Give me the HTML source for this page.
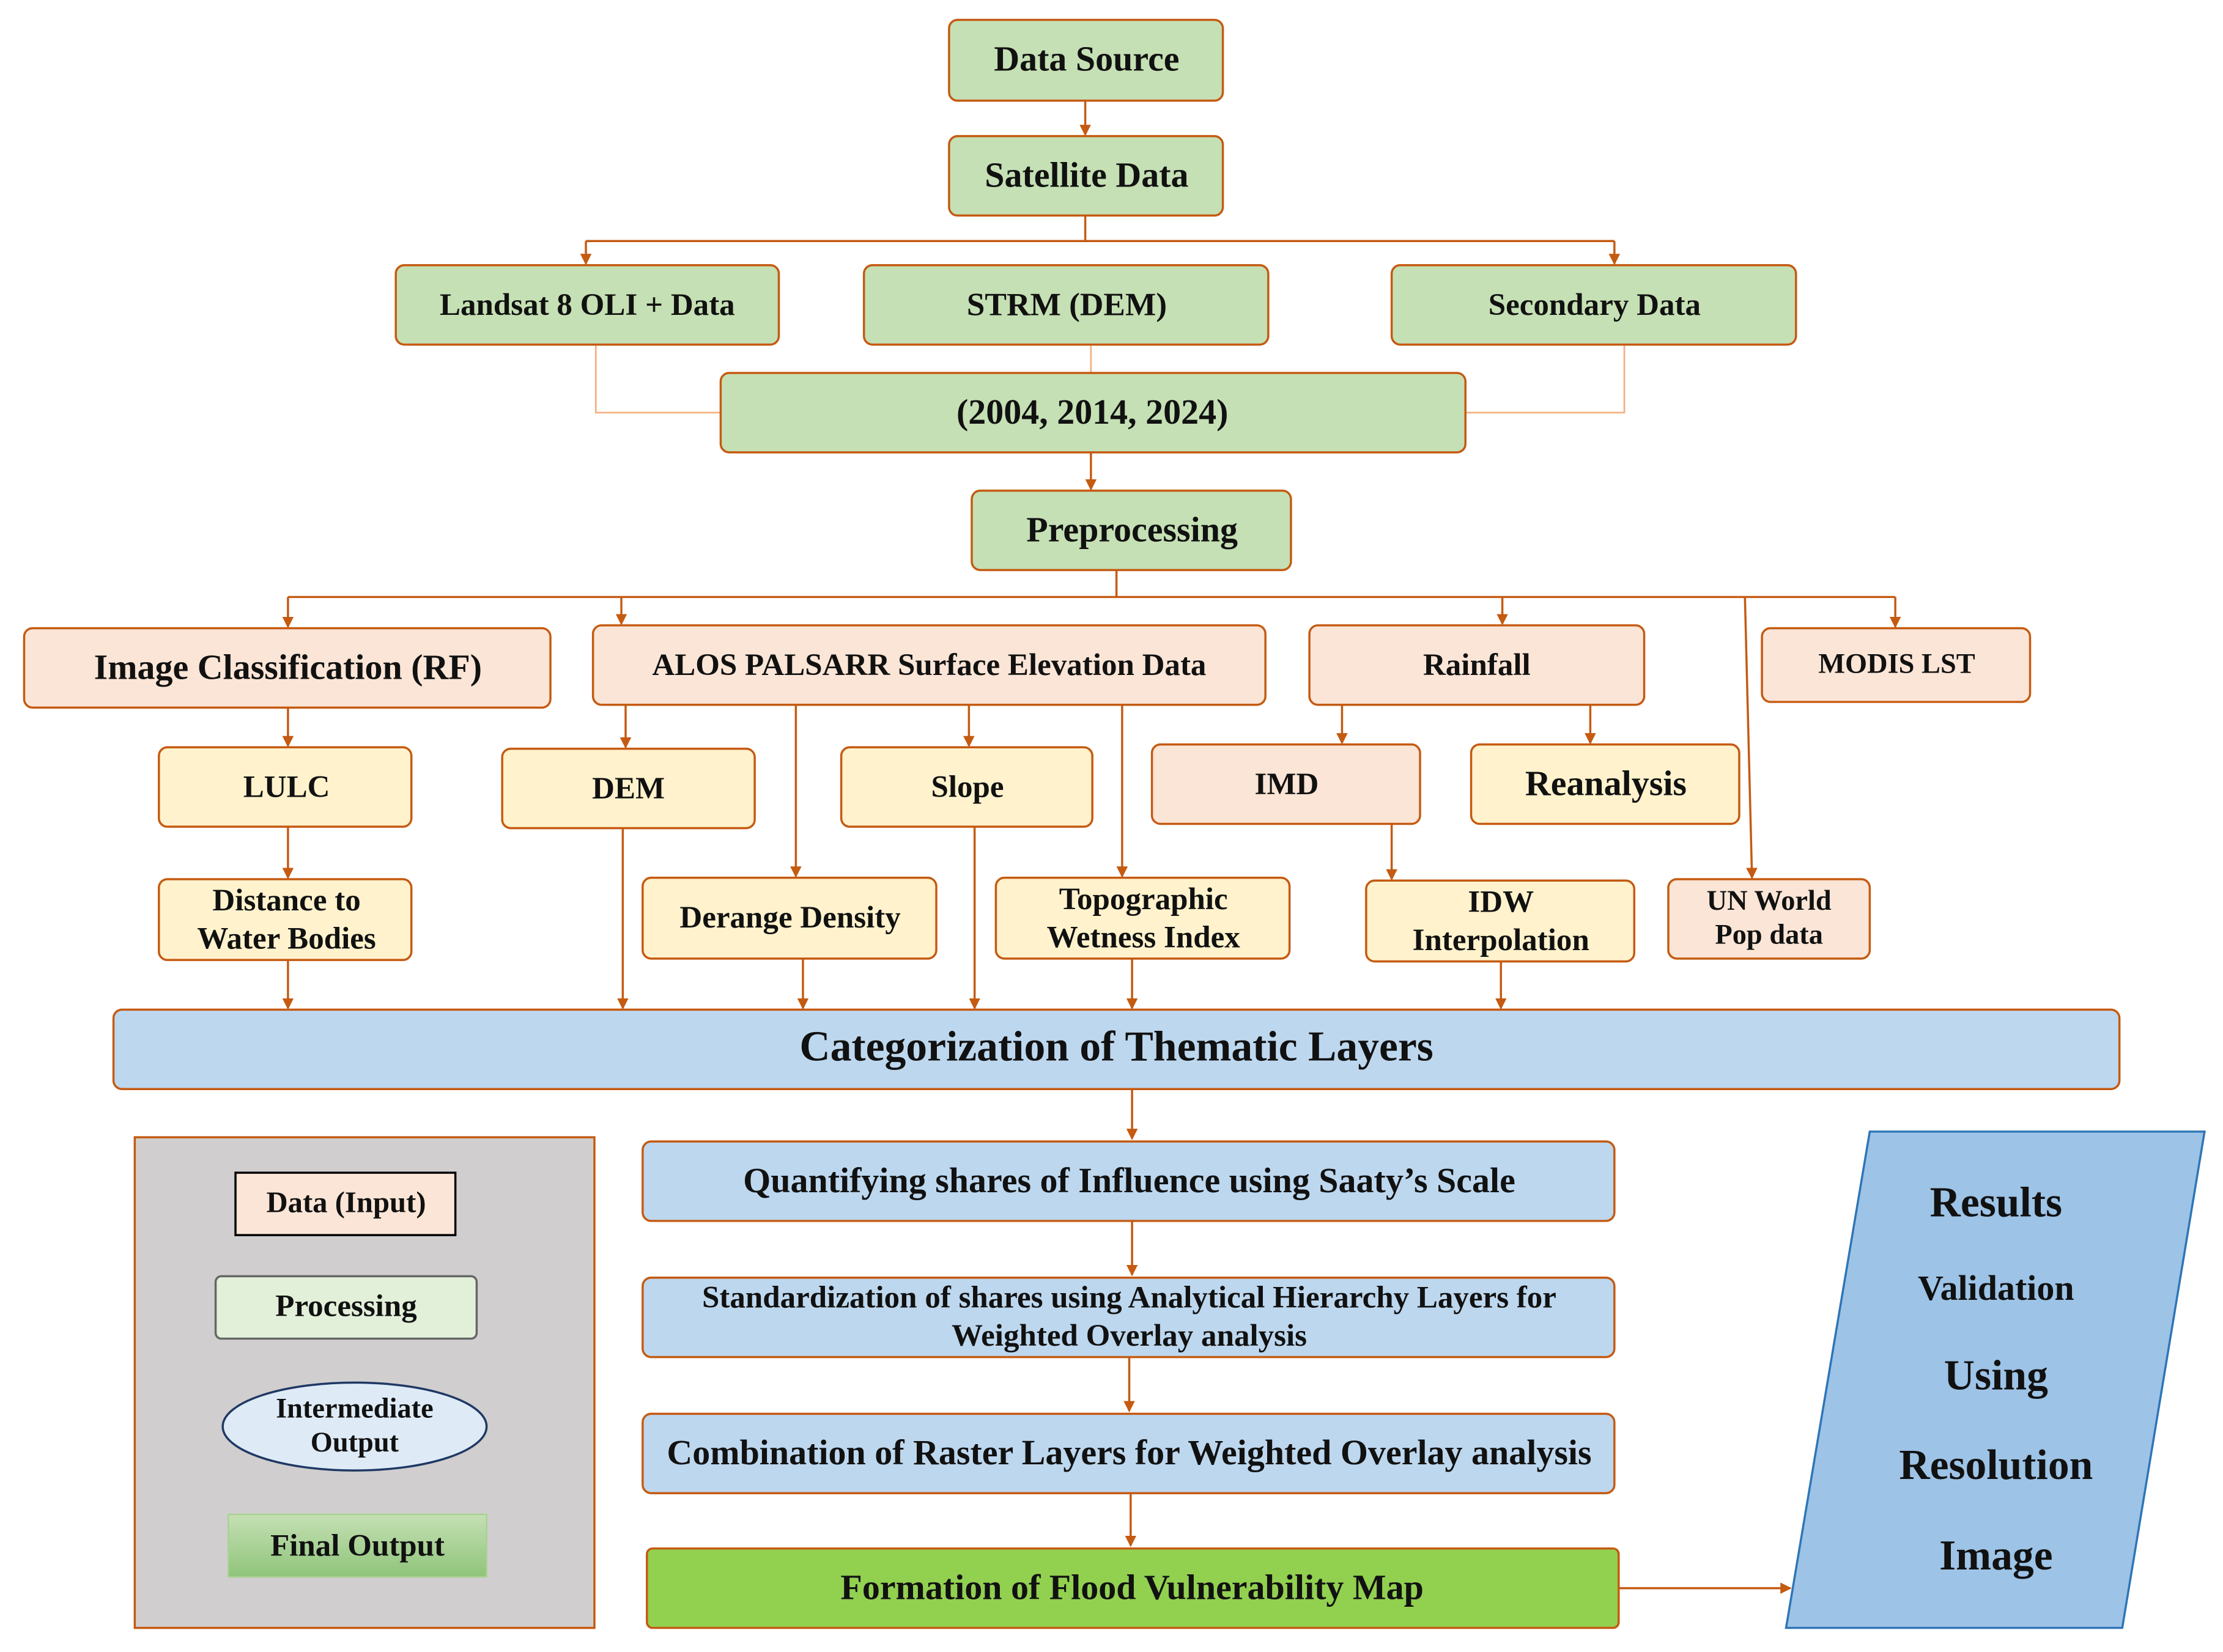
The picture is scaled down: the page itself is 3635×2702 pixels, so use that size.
<!DOCTYPE html>
<html><head><meta charset="utf-8"><style>
html,body{margin:0;padding:0;background:#fff}
svg{display:block}
text{font-family:"Liberation Serif",serif;font-weight:bold;fill:#111;text-anchor:middle;dominant-baseline:middle}
</style></head><body>
<svg width="3635" height="2702" viewBox="0 0 1567 1165" preserveAspectRatio="none" xmlns="http://www.w3.org/2000/svg">
<defs>
<marker id="a" markerWidth="8" markerHeight="8" refX="7" refY="4" orient="auto" markerUnits="userSpaceOnUse"><path d="M0,0 L8,4 L0,8 Z" fill="#c55a11"/></marker>
<linearGradient id="fg" x1="0" y1="0" x2="0" y2="1"><stop offset="0" stop-color="#c5e0b4"/><stop offset="1" stop-color="#8fc47a"/></linearGradient>
</defs>
<g stroke="#c55a11" stroke-width="1.5" fill="none">
<line x1="765" y1="71" x2="765" y2="95" marker-end="url(#a)"/>
<polyline points="765,152 765,170"/>
<line x1="413" y1="170" x2="1138" y2="170"/>
<line x1="413" y1="170" x2="413" y2="186" marker-end="url(#a)"/>
<line x1="1138" y1="170" x2="1138" y2="186" marker-end="url(#a)"/>
<line x1="769" y1="319" x2="769" y2="345" marker-end="url(#a)"/>
<line x1="787" y1="402" x2="787" y2="421"/>
<line x1="203" y1="421" x2="1336" y2="421"/>
<line x1="203" y1="421" x2="203" y2="442" marker-end="url(#a)"/>
<line x1="438" y1="421" x2="438" y2="440" marker-end="url(#a)"/>
<line x1="1059" y1="421" x2="1059" y2="440" marker-end="url(#a)"/>
<line x1="1336" y1="421" x2="1336" y2="442" marker-end="url(#a)"/>
<line x1="1230" y1="421" x2="1235" y2="619" marker-end="url(#a)"/>
<line x1="203" y1="499" x2="203" y2="526" marker-end="url(#a)"/>
<line x1="203" y1="583" x2="203" y2="619" marker-end="url(#a)"/>
<line x1="441" y1="497" x2="441" y2="527" marker-end="url(#a)"/>
<line x1="683" y1="497" x2="683" y2="526" marker-end="url(#a)"/>
<line x1="561" y1="497" x2="561" y2="618" marker-end="url(#a)"/>
<line x1="791" y1="497" x2="791" y2="618" marker-end="url(#a)"/>
<line x1="946" y1="497" x2="946" y2="524" marker-end="url(#a)"/>
<line x1="1121" y1="497" x2="1121" y2="524" marker-end="url(#a)"/>
<line x1="981" y1="581" x2="981" y2="620" marker-end="url(#a)"/>
<line x1="203" y1="677" x2="203" y2="711" marker-end="url(#a)"/>
<line x1="439" y1="584" x2="439" y2="711" marker-end="url(#a)"/>
<line x1="566" y1="676" x2="566" y2="711" marker-end="url(#a)"/>
<line x1="687" y1="583" x2="687" y2="711" marker-end="url(#a)"/>
<line x1="798" y1="676" x2="798" y2="711" marker-end="url(#a)"/>
<line x1="1058" y1="678" x2="1058" y2="711" marker-end="url(#a)"/>
<line x1="798" y1="768" x2="798" y2="803" marker-end="url(#a)"/>
<line x1="798" y1="861" x2="798" y2="899" marker-end="url(#a)"/>
<line x1="796" y1="957" x2="796" y2="995" marker-end="url(#a)"/>
<line x1="797" y1="1053" x2="797" y2="1090" marker-end="url(#a)"/>
<line x1="1141" y1="1120" x2="1262" y2="1120" marker-end="url(#a)"/>
</g>
<g stroke="#f4b183" stroke-width="1.2" fill="none">
<polyline points="420,243 420,291 508,291"/>
<polyline points="1145,243 1145,291 1033,291"/>
<line x1="769" y1="243" x2="769" y2="263"/>
</g>
<g stroke="#c55a11" stroke-width="1.5">
<rect x="669" y="14" width="193" height="57" rx="6" fill="#c5e0b4"/>
<rect x="669" y="96" width="193" height="56" rx="6" fill="#c5e0b4"/>
<rect x="279" y="187" width="270" height="56" rx="6" fill="#c5e0b4"/>
<rect x="609" y="187" width="285" height="56" rx="6" fill="#c5e0b4"/>
<rect x="981" y="187" width="285" height="56" rx="6" fill="#c5e0b4"/>
<rect x="508" y="263" width="525" height="56" rx="6" fill="#c5e0b4"/>
<rect x="685" y="346" width="225" height="56" rx="6" fill="#c5e0b4"/>
<rect x="17" y="443" width="371" height="56" rx="6" fill="#fbe5d6"/>
<rect x="418" y="441" width="474" height="56" rx="6" fill="#fbe5d6"/>
<rect x="923" y="441" width="236" height="56" rx="6" fill="#fbe5d6"/>
<rect x="1242" y="443" width="189" height="52" rx="6" fill="#fbe5d6"/>
<rect x="112" y="527" width="178" height="56" rx="6" fill="#fff2cc"/>
<rect x="112" y="620" width="178" height="57" rx="6" fill="#fff2cc"/>
<rect x="354" y="528" width="178" height="56" rx="6" fill="#fff2cc"/>
<rect x="593" y="527" width="177" height="56" rx="6" fill="#fff2cc"/>
<rect x="453" y="619" width="207" height="57" rx="6" fill="#fff2cc"/>
<rect x="702" y="619" width="207" height="57" rx="6" fill="#fff2cc"/>
<rect x="812" y="525" width="189" height="56" rx="6" fill="#fbe5d6"/>
<rect x="1037" y="525" width="189" height="56" rx="6" fill="#fff2cc"/>
<rect x="963" y="621" width="189" height="57" rx="6" fill="#fff2cc"/>
<rect x="1176" y="620" width="142" height="56" rx="6" fill="#fbe5d6"/>
<rect x="80" y="712" width="1414" height="56" rx="6" fill="#bdd7ee"/>
<rect x="453" y="805" width="685" height="56" rx="6" fill="#bdd7ee"/>
<rect x="453" y="901" width="685" height="56" rx="6" fill="#bdd7ee"/>
<rect x="453" y="997" width="685" height="56" rx="6" fill="#bdd7ee"/>
<rect x="456" y="1092" width="685" height="56" rx="4" fill="#92d050"/>
<rect x="95" y="802" width="324" height="346" fill="#d0cece"/>
</g>
<polygon points="1318,798 1554,798 1496,1148 1259,1148" fill="#9dc3e6" stroke="#2e75b6" stroke-width="1.5"/>
<rect x="166" y="827" width="155" height="44" fill="#fbe5d6" stroke="#000" stroke-width="1.5"/>
<rect x="152" y="900" width="184" height="44" rx="4" fill="#e2f0d9" stroke="#666" stroke-width="1.5"/>
<ellipse cx="250" cy="1006" rx="93" ry="31" fill="#deebf7" stroke="#1f3864" stroke-width="1.5"/>
<rect x="161" y="1068" width="182" height="44" fill="url(#fg)" stroke="#a9d18e" stroke-width="1"/>
<text x="766" y="44" font-size="25">Data Source</text>
<text x="766" y="126" font-size="25">Satellite Data</text>
<text x="414" y="217" font-size="22">Landsat 8 OLI + Data</text>
<text x="752" y="217" font-size="23">STRM (DEM)</text>
<text x="1124" y="217" font-size="22">Secondary Data</text>
<text x="770" y="293" font-size="25">(2004, 2014, 2024)</text>
<text x="798" y="376" font-size="25">Preprocessing</text>
<text x="203" y="473" font-size="25">Image Classification (RF)</text>
<text x="655" y="471" font-size="22">ALOS PALSARR Surface Elevation Data</text>
<text x="1041" y="471" font-size="22">Rainfall</text>
<text x="1337" y="470" font-size="20">MODIS LST</text>
<text x="202" y="557" font-size="22">LULC</text>
<text x="202" y="637" font-size="22">Distance to</text>
<text x="202" y="664" font-size="22">Water Bodies</text>
<text x="443" y="558" font-size="22">DEM</text>
<text x="682" y="557" font-size="22">Slope</text>
<text x="557" y="649" font-size="22">Derange Density</text>
<text x="806" y="636" font-size="22">Topographic</text>
<text x="806" y="663" font-size="22">Wetness Index</text>
<text x="907" y="555" font-size="22">IMD</text>
<text x="1132" y="555" font-size="25">Reanalysis</text>
<text x="1058" y="638" font-size="22">IDW</text>
<text x="1058" y="665" font-size="22">Interpolation</text>
<text x="1247" y="637" font-size="20">UN World</text>
<text x="1247" y="661" font-size="20">Pop data</text>
<text x="787" y="741" font-size="30">Categorization of Thematic Layers</text>
<text x="796" y="835" font-size="25">Quantifying shares of Influence using Saaty’s Scale</text>
<text x="796" y="917" font-size="22">Standardization of shares using Analytical Hierarchy Layers for</text>
<text x="796" y="944" font-size="22">Weighted Overlay analysis</text>
<text x="796" y="1027" font-size="25">Combination of Raster Layers for Weighted Overlay analysis</text>
<text x="798" y="1122" font-size="25">Formation of Flood Vulnerability Map</text>
<text x="1407" y="851" font-size="30">Results</text>
<text x="1407" y="911" font-size="25">Validation</text>
<text x="1407" y="973" font-size="30">Using</text>
<text x="1407" y="1036" font-size="30">Resolution</text>
<text x="1407" y="1100" font-size="30">Image</text>
<text x="244" y="850" font-size="21">Data (Input)</text>
<text x="244" y="923" font-size="22">Processing</text>
<text x="250" y="995" font-size="20">Intermediate</text>
<text x="250" y="1019" font-size="20">Output</text>
<text x="252" y="1092" font-size="22">Final Output</text>
</svg>
</body></html>
